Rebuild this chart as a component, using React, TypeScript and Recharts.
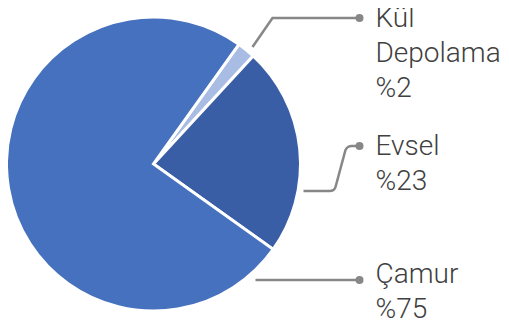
import { PieChart, Pie, Cell } from 'recharts';

const categories = ['Kül Depolama', 'Evsel', 'Çamur'];
const shares = [2, 23, 75];
const colors = ['#a9bde4', '#3a5ea6', '#4571be'];
const labelLines = [['Kül', 'Depolama', '%2'], ['Evsel', '%23'], ['Çamur', '%75']];

const data = categories.map((name, i) => ({ name, value: shares[i] }));

// leader paths, relative to the pie centre
const leaders = [
    { d: 'M 99 -117 L 119 -146 L 206 -146', dotY: -146, textY: -147 },
    { d: 'M 150 27 L 176 27 Q 181 27 182 23 L 192 -14 Q 194 -18 198 -18 L 206 -18', dotY: -18, textY: -19 },
    { d: 'M 102 116 L 206 116', dotY: 116, textY: 109 },
];

const renderLabel = (props: any) => {
    const { cx, cy, index } = props;
    const l = leaders[index];
    return (
        <g key={'lbl' + index}>
            <path d={l.d} transform={`translate(${cx},${cy})`} fill="none" stroke="#878787" strokeWidth={2.5} />
            <circle cx={cx + 206} cy={cy + l.dotY} r={4} fill="#878787" />
            {labelLines[index].map((t, j) => (
                <text key={j} x={cx + 222} y={cy + l.textY + j * 35} dominantBaseline="central"
                    fill="#404040" fontSize={28} fontFamily="Roboto" fontWeight={300}>{t}</text>
            ))}
        </g>
    );
};

export default function App() {
    return (
        <PieChart width={501} height={315} margin={{ top: 0, right: 0, bottom: 0, left: 0 }}
            style={{ overflow: 'visible' }}>
            <Pie data={data} dataKey="value" cx={145.5} cy={156} outerRadius={147}
                startAngle={54.5} endAngle={-305.5} stroke="#ffffff" strokeWidth={3}
                label={renderLabel} labelLine={false} isAnimationActive={false}>
                {data.map((d, i) => <Cell key={d.name} fill={colors[i]} />)}
            </Pie>
        </PieChart>
    );
}
